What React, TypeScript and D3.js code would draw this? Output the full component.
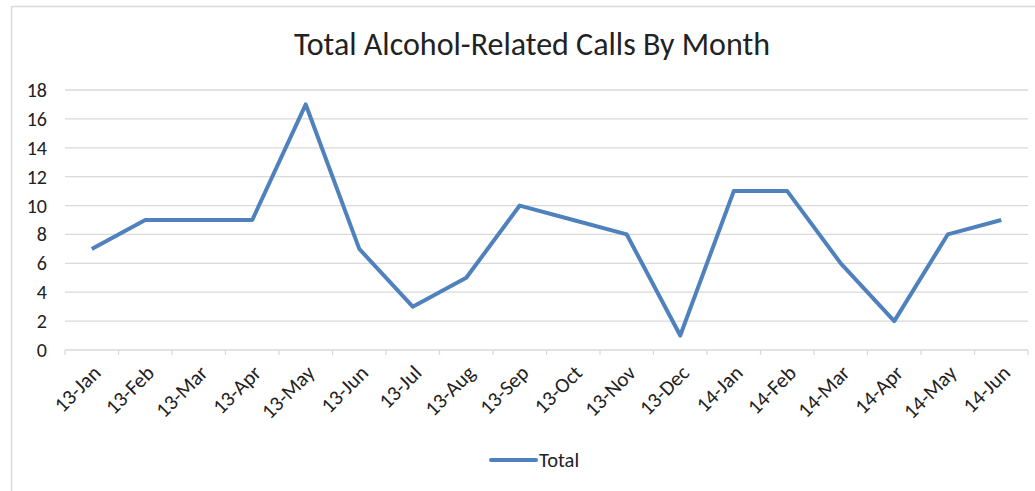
import React from "react";
import * as d3 from "d3";

const months = ["13-Jan", "13-Feb", "13-Mar", "13-Apr", "13-May", "13-Jun", "13-Jul", "13-Aug", "13-Sep", "13-Oct", "13-Nov", "13-Dec", "14-Jan", "14-Feb", "14-Mar", "14-Apr", "14-May", "14-Jun"];
const totals = [7, 9, 9, 9, 17, 7, 3, 5, 10, 9, 8, 1, 11, 11, 6, 2, 8, 9];
const yTicks = [0, 2, 4, 6, 8, 10, 12, 14, 16, 18];

const font = "Carlito, Calibri, 'Open Sans', sans-serif";

const App = () => {
    const width = 1035;
    const height = 491;
    const plot = { left: 65, right: 1028, top: 90, bottom: 350 };

    const x = d3.scaleBand()
        .domain(months)
        .range([plot.left, plot.right]);
    const y = d3.scaleLinear()
        .domain([0, 18])
        .range([plot.bottom, plot.top]);

    const line = d3.line<number>()
        .x((d, i) => (x(months[i]) as number) + x.bandwidth() / 2)
        .y(d => y(d));

    const tickXs = months.map(m => x(m) as number).concat([plot.right]);

    return (
        <svg width={width} height={height} style={{ position: "absolute", left: 0, top: 0 }}>
            <rect x={0} y={0} width={width} height={height} fill="#fff" />
            <rect x={11.5} y={6.5} width={1040} height={500} fill="none" stroke="#d9d9d9" strokeWidth={1.5} />
            <text x={532} y={55} textAnchor="middle" fontFamily={font} fontSize={32} fill="#222">
                Total Alcohol-Related Calls By Month
            </text>
            {yTicks.map(t => (
                <g key={t}>
                    <line x1={plot.left} x2={plot.right} y1={y(t)} y2={y(t)} stroke="#d9d9d9" strokeWidth={1.3} />
                    <text x={47} y={y(t)} dy="0.35em" textAnchor="end" fontFamily={font} fontSize={20} fill="#222">{t}</text>
                </g>
            ))}
            {tickXs.map((tx, i) => (
                <line key={i} x1={tx} x2={tx} y1={plot.bottom} y2={plot.bottom + 5} stroke="#d9d9d9" strokeWidth={1.3} />
            ))}
            {months.map(m => {
                const cx = (x(m) as number) + x.bandwidth() / 2 + 5;
                const cy = plot.bottom + 19;
                return (
                    <text key={m} x={cx} y={cy} textAnchor="end" fontFamily={font} fontSize={21} fill="#222"
                        transform={`rotate(-45, ${cx}, ${cy})`} dy="0.35em">
                        {m}
                    </text>
                );
            })}
            <path d={line(totals) || ""} fill="none" stroke="#4f81bd" strokeWidth={4} strokeLinejoin="round" />
            <line x1={491} x2={536} y1={460} y2={460} stroke="#4f81bd" strokeWidth={4} strokeLinecap="round" />
            <text x={539} y={460} dy="0.35em" fontFamily={font} fontSize={20.5} fill="#222">Total</text>
        </svg>
    );
};

export default App;
